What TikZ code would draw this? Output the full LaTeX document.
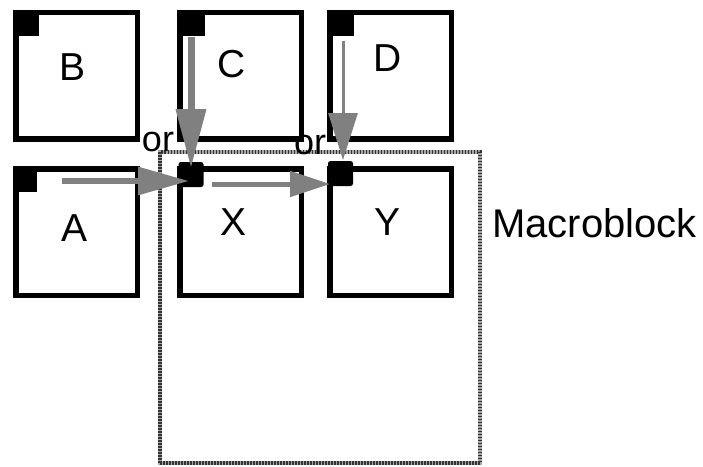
\documentclass[tikz,border=0pt]{standalone}
\usepackage{fontspec}
\setmainfont{Liberation Sans}
\usetikzlibrary{arrows.meta}
\begin{document}
\begin{tikzpicture}[x=1pt,y=-1pt,
  blk/.style={draw=black, line width=5.5pt, fill=white, inner sep=0pt,
              minimum width=121.5pt, minimum height=126.5pt},
  lbl/.style={inner sep=0pt, font=\fontsize{39}{39}\selectfont},
  mblbl/.style={inner sep=0pt, font=\fontsize{40}{40}\selectfont},
  orlbl/.style={inner sep=0pt, font=\fontsize{36}{36}\selectfont},
  corner/.style={fill=black},
  sq/.style={fill=black, rounded corners=2.5pt, inner sep=0pt, minimum size=25pt},
  mbrect/.style={draw=gray!70, line width=4.5pt, inner sep=0pt,
              minimum width=320pt, minimum height=311pt,
              postaction={draw=gray!40!black, line width=4.5pt, dash pattern=on 1.5pt off 1.5pt}},
  garrow/.style={draw=gray, fill=gray}
]
\useasboundingbox (0,0) rectangle (703,466);
\fill[white] (0,0) rectangle (703,466);

% macroblock outline
\node[mbrect] (mb) at (320,307.5) {};

% boxes
\node[blk] (B) at (76.5,75.5) {};
\node[blk] (C) at (240.5,75.5) {};
\node[blk] (D) at (390.5,75.5) {};
\node[blk] (A) at (76.5,232) {};
\node[blk] (X) at (240.5,232) {};
\node[blk] (Y) at (390.5,232) {};

% corner marks
\fill[corner] (B.north west) rectangle ++(26,26);
\fill[corner] (C.north west) rectangle ++(28,26);
\fill[corner] (D.north west) rectangle ++(27,26);
\fill[corner] (A.north west) rectangle ++(24,26);
\node[sq] (sqX) at (191,174.5) {};
\node[sq] (sqY) at (340.5,173.5) {};

% letters
\node[lbl] (lB) at (73,67) {B};
\node[lbl] (lC) at (232,64) {C};
\node[lbl] (lD) at (388,58) {D};
\node[lbl] (lA) at (75,228) {A};
\node[lbl] (lX) at (234,222) {X};
\node[lbl] (lY) at (388,222) {Y};
\node[orlbl] (or1) at (158,142) {or};
\node[orlbl] (or2) at (310,145) {or};
\node[mblbl, anchor=base west] (mbl) at (492,237) {Macroblock};

% arrows
\coordinate (aS) at (62,181);   \coordinate (aE) at (189,181);
\coordinate (cS) at (191,37);   \coordinate (cE) at (191,168);
\coordinate (xS) at (212,184);  \coordinate (xE) at (330,184);
\coordinate (dS) at (343,41);   \coordinate (dE) at (343,160);
\draw[garrow, line width=6pt, -{Triangle[width=27pt,length=51pt]}] (aS) -- (aE);
\draw[garrow, line width=7pt, -{Triangle[width=29pt,length=59pt]}] (cS) -- (cE);
\draw[garrow, line width=5pt, -{Triangle[width=25pt,length=40pt]}] (xS) -- (xE);
\draw[garrow, line width=3pt, -{Triangle[width=29pt,length=47pt]}] (dS) -- (dE);
\end{tikzpicture}
\end{document}
